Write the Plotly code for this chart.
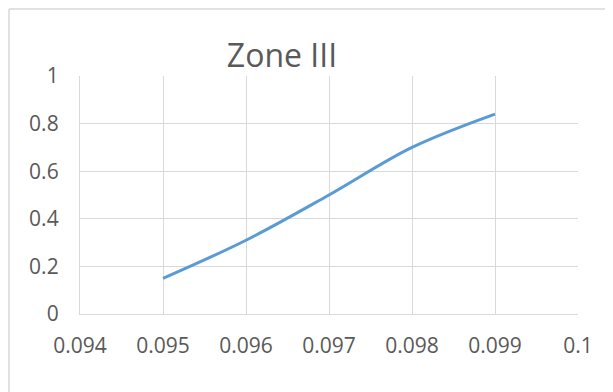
import plotly.graph_objects as go

x_values = [0.095, 0.096, 0.097, 0.098, 0.099]
y_values = [0.15, 0.31, 0.50, 0.70, 0.84]
x_ticks = [0.094, 0.095, 0.096, 0.097, 0.098, 0.099, 0.1]
x_tick_labels = ["0.094", "0.095", "0.096", "0.097", "0.098", "0.099", "0.1"]
y_ticks = [0, 0.2, 0.4, 0.6, 0.8, 1]
y_tick_labels = ["0", "0.2", "0.4", "0.6", "0.8", "1"]
title_text = "Zone III"

# page body has an 8px margin, so figure coordinates are screen - 8
OFF = 8
W, H = 613 - OFF, 392 - OFF
L, T = 80 - OFF, 76 - OFF
R = W - (578 - OFF)
B = H - (314 - OFF)
pw, ph = W - L - R, H - T - B

fig = go.Figure()
fig.add_trace(go.Scatter(
    x=x_values, y=y_values, mode="lines",
    line=dict(color="#5b9bd5", width=3, shape="spline", smoothing=1.0),
    showlegend=False,
))

font_family = "Open Sans, Noto Sans, sans-serif"
grid = "#d9d9d9"

fig.update_layout(
    width=W, height=H,
    margin=dict(l=L, r=R, t=T, b=B, pad=0),
    paper_bgcolor="white", plot_bgcolor="white",
    title=dict(
        text=title_text, x=(282 - OFF) / W, xref="container", xanchor="center",
        y=1 - (56 - OFF) / H, yref="container", yanchor="middle",
        font=dict(family=font_family, size=32, color="#595959"),
    ),
    xaxis=dict(
        range=[0.094, 0.1], tickvals=x_ticks, ticktext=x_tick_labels,
        showgrid=True, gridcolor=grid, gridwidth=1.3,
        showline=True, linecolor=grid, linewidth=1.3, mirror=False,
        zeroline=False, ticks="", ticklabelstandoff=13,
        tickfont=dict(family=font_family, size=21, color="#595959"),
    ),
    yaxis=dict(
        range=[0, 1], tickvals=y_ticks, ticktext=y_tick_labels,
        showgrid=True, gridcolor=grid, gridwidth=1.3,
        showline=True, linecolor=grid, linewidth=1.3,
        zeroline=False, ticks="", ticklabelstandoff=16,
        tickfont=dict(family=font_family, size=21, color="#595959"),
    ),
)

# outer chart-area border (runs off the right and bottom edges)
x_left = (1 - L) / pw
y_top = (H - B - 1) / ph
fig.add_shape(type="line", xref="paper", yref="paper",
              x0=x_left, x1=1.2, y0=y_top, y1=y_top,
              line=dict(color=grid, width=1.5))
fig.add_shape(type="line", xref="paper", yref="paper",
              x0=x_left, x1=x_left, y0=y_top, y1=-0.5,
              line=dict(color=grid, width=1.5))

fig.write_html("out.html")
